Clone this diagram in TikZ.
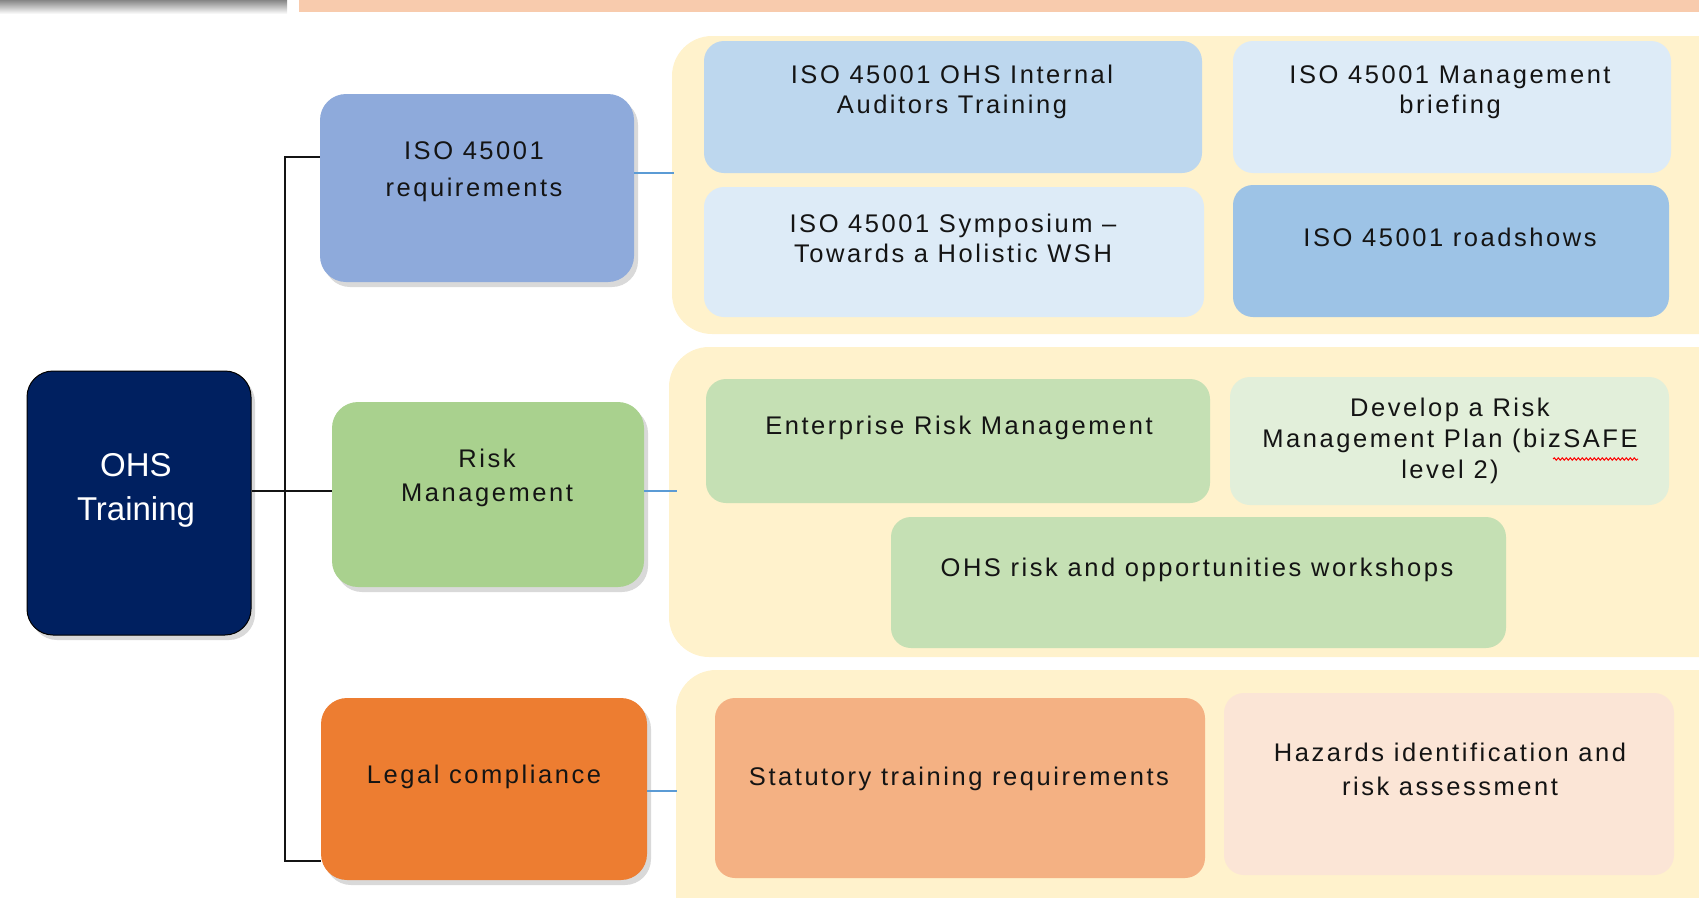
\documentclass[tikz,border=0pt]{standalone}
\usepackage{fontspec}
\setmainfont{Liberation Sans}[LetterSpace=10]
\newfontfamily\ohsfont{Liberation Sans}
\usetikzlibrary{shadows,decorations.pathmorphing}
\definecolor{navy}{HTML}{002060}
\definecolor{isoc}{HTML}{8EAADB}
\definecolor{riskc}{HTML}{A9D18E}
\definecolor{legalc}{HTML}{ED7D31}
\definecolor{contc}{HTML}{FFF2CC}
\definecolor{aone}{HTML}{BDD7EE}
\definecolor{atwo}{HTML}{DDEBF7}
\definecolor{afour}{HTML}{9DC3E6}
\definecolor{bone}{HTML}{C5E0B4}
\definecolor{btwo}{HTML}{E2EFDA}
\definecolor{done}{HTML}{F4B183}
\definecolor{dtwo}{HTML}{FBE5D6}
\definecolor{bluel}{HTML}{5B9BD5}
\definecolor{peach}{HTML}{F8CBAD}
\definecolor{ink}{HTML}{141414}
\tikzset{
  shp/.style={rectangle, inner sep=0pt, draw=none},
  catbox/.style={shp, rounded corners=26pt, drop shadow={shadow xshift=4pt, shadow yshift=-5pt, opacity=0.3}},
  contbox/.style={shp, fill=contc, rounded corners=40pt},
  inbox/.style={shp, rounded corners=20pt},
  txt/.style={inner sep=0pt, align=center, text=ink, font=\fontsize{25.5}{30}\selectfont},
  txtwide/.style={txt, font=\fontsize{25.5}{#1}\selectfont},
  conn/.style={draw=ink, line width=2pt},
  bconn/.style={draw=bluel, line width=1.5pt},
}
\begin{document}
\begin{tikzpicture}[x=1pt,y=-1pt]
\useasboundingbox (0,0) rectangle (1699,897);
% top bars
\shade[top color=gray!95, bottom color=white] (0,0) rectangle (287,14);
\fill[peach] (299,0) rectangle (1699,12);
% containers
\node[contbox, minimum width=1068pt, minimum height=298pt] (c1) at (1206,185) {};
\node[contbox, minimum width=1071pt, minimum height=310pt] (c2) at (1204.5,502) {};
\node[contbox, minimum width=1064pt, minimum height=270pt] (c3) at (1208,805) {};
% main box
\node[catbox, fill=navy, draw=black, line width=1pt, minimum width=224pt, minimum height=264pt] (ohs) at (139,503) {};
\node[inner sep=0pt, align=center, text=white, font=\ohsfont\fontsize{33}{44}\selectfont] (ohst) at (136,490) {OHS\\Training};
% categories
\node[catbox, fill=isoc, minimum width=314pt, minimum height=188pt] (iso) at (477,188) {};
\node[txtwide=37] (isot) at (474,172) {ISO 45001\\requirements};
\node[catbox, fill=riskc, minimum width=312pt, minimum height=185pt] (risk) at (488,494.5) {};
\node[txtwide=34] (riskt) at (487,478) {Risk\\Management};
\node[catbox, fill=legalc, minimum width=326pt, minimum height=182pt] (legal) at (484,789) {};
\node[txt] (legalt) at (484,777) {Legal compliance};
% group 1
\node[inbox, fill=aone, minimum width=498pt, minimum height=132pt] (a1) at (953,107) {};
\node[txt] (a1t) at (952,92) {ISO 45001 OHS Internal\\Auditors Training};
\node[inbox, fill=atwo, minimum width=438pt, minimum height=132pt] (a2) at (1452,107) {};
\node[txt] (a2t) at (1450,92) {ISO 45001 Management\\briefing};
\node[inbox, fill=atwo, minimum width=500pt, minimum height=130pt] (a3) at (954,252) {};
\node[txt] (a3t) at (953,238) {ISO 45001 Symposium --\\Towards a Holistic WSH};
\node[inbox, fill=afour, minimum width=436pt, minimum height=132pt] (a4) at (1451,251) {};
\node[txt] (a4t) at (1450,237) {ISO 45001 roadshows};
% group 2
\node[inbox, fill=bone, minimum width=504pt, minimum height=124pt] (b1) at (958,441) {};
\node[txt] (b1t) at (959,428) {Enterprise Risk Management};
\node[inbox, fill=btwo, minimum width=439pt, minimum height=128pt] (b2) at (1449.5,441) {};
\node[txtwide=31] (b2t) at (1450,441) {Develop a Risk\\Management Plan (bizSAFE\\level 2)};
\node[inbox, fill=bone, minimum width=615pt, minimum height=131pt] (b3) at (1198.5,582.5) {};
\node[txt] (b3t) at (1197,570) {OHS risk and opportunities workshops};
% group 3
\node[inbox, fill=done, minimum width=490pt, minimum height=180pt] (d1) at (960,788) {};
\node[txt] (d1t) at (959,779) {Statutory training requirements};
\node[inbox, fill=dtwo, minimum width=450pt, minimum height=182pt] (d2) at (1449,784) {};
\node[txtwide=34] (d2t) at (1450,769) {Hazards identification and\\risk assessment};
% spell-check squiggle
\coordinate (w1) at (1553,459);
\coordinate (w2) at (1638,459);
\draw[red, line width=1pt, decorate, decoration={snake, amplitude=1.2pt, segment length=4pt}] (w1) -- (w2);
% black connectors
\coordinate (jt) at (285,157);
\coordinate (jm) at (285,491);
\coordinate (jb) at (285,861);
\draw[conn] (iso.west |- jt) -- (jt) -- (jb) -- (legal.west |- jb);
\draw[conn] (ohs.east |- jm) -- (risk.west |- jm);
% blue connectors
\coordinate (k1) at (674,173);
\coordinate (k2) at (677,491);
\coordinate (k3) at (677,791);
\draw[bconn] (iso.east |- k1) -- (k1);
\draw[bconn] (risk.east |- k2) -- (k2);
\draw[bconn] (legal.east |- k3) -- (k3);
\end{tikzpicture}
\end{document}
